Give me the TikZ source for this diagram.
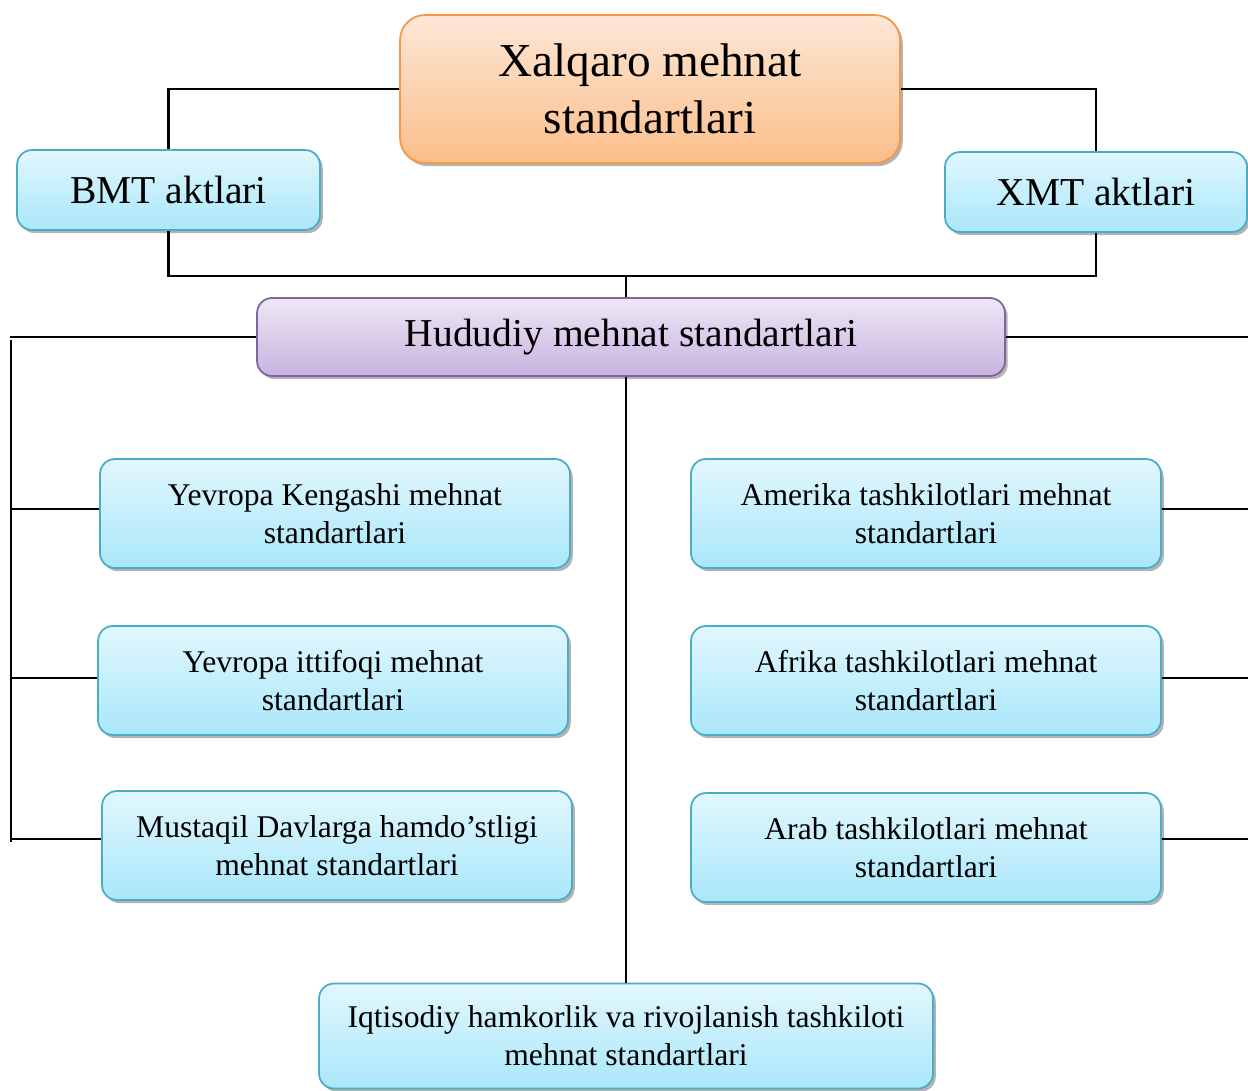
\documentclass[tikz,border=0pt]{standalone}
\usepackage{fontspec}
\setmainfont{Liberation Serif}
\usetikzlibrary{shadows}
\definecolor{bluetop}{HTML}{E2F7FD}
\definecolor{bluebot}{HTML}{A9E7FA}
\definecolor{blueline}{HTML}{4BACC6}
\definecolor{purtop}{HTML}{EDE7F5}
\definecolor{purbot}{HTML}{C8B3E0}
\definecolor{purline}{HTML}{8064A2}
\definecolor{ortop}{HTML}{FDE7D6}
\definecolor{orbot}{HTML}{FBBE8A}
\definecolor{orline}{HTML}{F79646}
\tikzset{
  boxbase/.style={rounded corners=0.3cm, line width=1pt, inner sep=0pt, align=center,
    drop shadow={shadow xshift=1.6pt, shadow yshift=-1.8pt, opacity=0.6, fill=black!50}},
  bluebox/.style={boxbase, draw=blueline, top color=bluetop, bottom color=bluebot},
  smallbox/.style={bluebox, minimum width=9.4cm, minimum height=2.18cm,
    font=\fontsize{18}{21.6}\selectfont},
  conn/.style={line width=1.2pt, black}
}
\begin{document}
\begin{tikzpicture}[x=0.02cm, y=-0.02cm]
\useasboundingbox (0,0) rectangle (1248,1090);
% nodes
\node[boxbase, rounded corners=0.5cm, draw=orline, top color=ortop, bottom color=orbot,
  minimum width=10cm, minimum height=2.96cm, font=\fontsize{26.9}{32.3}\selectfont]
  (top) at (650,89) {Xalqaro mehnat\\standartlari};
\node[bluebox, minimum width=6.06cm, minimum height=1.6cm, font=\fontsize{22.5}{27}\selectfont]
  (bmt) at (168.5,190) {BMT aktlari};
\node[bluebox, minimum width=6.04cm, minimum height=1.6cm, font=\fontsize{22.5}{27}\selectfont]
  (xmt) at (1096,192) {XMT aktlari};
\node[boxbase, draw=purline, top color=purtop, bottom color=purbot,
  minimum width=14.96cm, minimum height=1.56cm, font=\fontsize{22.5}{27}\selectfont]
  (hud) at (631,337) {Hududiy mehnat standartlari};
\node[smallbox] (l1) at (335,513.5) {Yevropa Kengashi mehnat\\standartlari};
\node[smallbox] (l2) at (333,680.5) {Yevropa ittifoqi mehnat\\standartlari};
\node[smallbox] (l3) at (337,845.5) {Mustaqil Davlarga hamdo’stligi\\mehnat standartlari};
\node[smallbox] (r1) at (926,513.5) {Amerika tashkilotlari mehnat\\standartlari};
\node[smallbox] (r2) at (926,680.5) {Afrika tashkilotlari mehnat\\standartlari};
\node[smallbox] (r3) at (926,847.5) {Arab tashkilotlari mehnat\\standartlari};
\node[smallbox, minimum width=12.28cm, minimum height=2.1cm]
  (bot) at (626,1036) {Iqtisodiy hamkorlik va rivojlanish tashkiloti\\mehnat standartlari};
% coordinates
\coordinate (mid) at (626,276);
\coordinate (lend) at (10,338);
\coordinate (ltop) at (11,340);
\coordinate (lbot) at (11,842);
\coordinate (rend) at (1248,338);
\coordinate (ya) at (0,509);
\coordinate (yb) at (0,678);
\coordinate (yc) at (0,839);
% connectors
\draw[conn] (top.west) -| (bmt.north);
\draw[conn] (top.east) -| (xmt.north);
\draw[conn] (bmt.south) |- (mid) -| (xmt.south);
\draw[conn] (mid) -- (mid |- hud.north);
\draw[conn] (hud.west) -- (hud.west -| lend);
\draw[conn] (ltop) -- (lbot);
\draw[conn] (l1.west |- ya) -- (lbot |- ya);
\draw[conn] (l2.west |- yb) -- (lbot |- yb);
\draw[conn] (l3.west |- yc) -- (lbot |- yc);
\draw[conn] (hud.east) -- (hud.east -| rend);
\draw[conn] (r1.east |- ya) -- (rend |- ya);
\draw[conn] (r2.east |- yb) -- (rend |- yb);
\draw[conn] (r3.east |- yc) -- (rend |- yc);
\draw[conn] (mid |- hud.south) -- (mid |- bot.north);
\end{tikzpicture}
\end{document}
